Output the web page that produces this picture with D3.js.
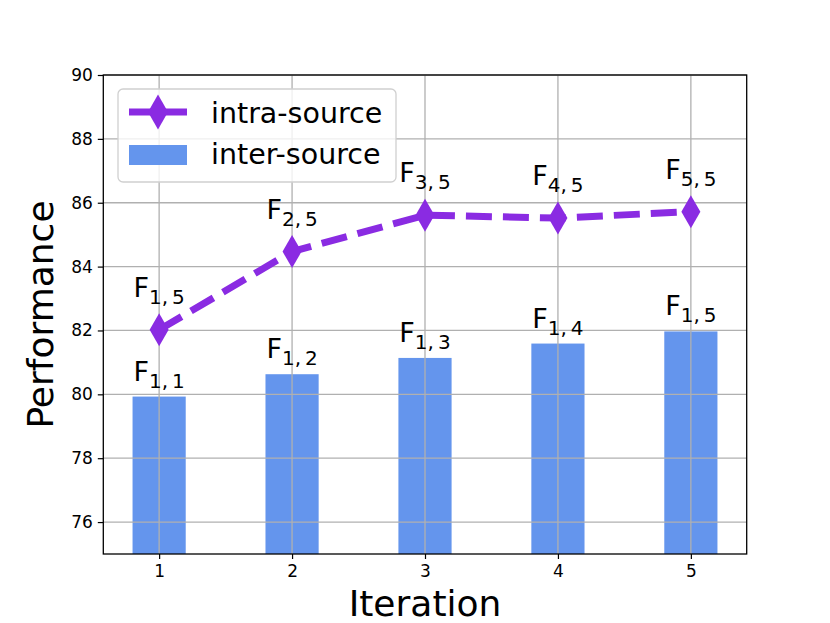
<!DOCTYPE html>
<html>
<head>
<meta charset="utf-8">
<script src="https://cdn.jsdelivr.net/npm/d3@7"></script>
<style>
  body { margin: 0; background: #fff; }
  text { font-family: "DejaVu Sans", sans-serif; }
</style>
</head>
<body>
<script>
// data
let iterations = [1, 2, 3, 4, 5];
let interSource = [79.93, 80.63, 81.14, 81.59, 81.97];
let intraSource = [82.02, 84.47, 85.61, 85.52, 85.72];
let interLabels = [["1", "1"], ["1", "2"], ["1", "3"], ["1", "4"], ["1", "5"]];
let intraLabels = [["1", "5"], ["2", "5"], ["3", "5"], ["4", "5"], ["5", "5"]];
let yTicks = [76, 78, 80, 82, 84, 86, 88, 90];

let width = 830, height = 623;
let pLeft = 103.3, pRight = 746.7, pTop = 75, pBottom = 554;
let purple = '#8a2be2', blue = '#6495ed', gridColor = '#b0b0b0';

let svg = d3.select('body').append('svg')
    .attr('width', width)
    .attr('height', height);

let x = d3.scaleLinear().domain([0.58, 5.42]).range([pLeft, pRight]);
let y = d3.scaleLinear().domain([75, 90]).range([pBottom, pTop]);
let barW = x(0.4) - x(0);

// bars
svg.selectAll('rect.bar')
    .data(interSource)
    .enter()
    .append('rect')
    .attr('class', 'bar')
    .attr('x', (d, i) => x(iterations[i]) - barW / 2)
    .attr('y', d => y(d))
    .attr('width', barW)
    .attr('height', d => pBottom - y(d))
    .attr('fill', blue);

// grid (drawn over the bars like the original)
let grid = svg.append('g');
grid.selectAll('line.gx')
    .data(iterations)
    .enter().append('line')
    .attr('x1', d => x(d)).attr('x2', d => x(d))
    .attr('y1', pTop).attr('y2', pBottom)
    .attr('stroke', gridColor).attr('stroke-width', 1.3);
grid.selectAll('line.gy')
    .data(yTicks)
    .enter().append('line')
    .attr('x1', pLeft).attr('x2', pRight)
    .attr('y1', d => y(d)).attr('y2', d => y(d))
    .attr('stroke', gridColor).attr('stroke-width', 1.3);

// dashed line + thin diamonds
let line = d3.line().x((d, i) => x(iterations[i])).y(d => y(d));
svg.append('path')
    .datum(intraSource)
    .attr('d', line)
    .attr('fill', 'none')
    .attr('stroke', purple)
    .attr('stroke-width', 7)
    .attr('stroke-dasharray', '26,11');

let diamond = function(cx, cy, w, h) {
    return `M${cx},${cy - h / 2}L${cx + w / 2},${cy}L${cx},${cy + h / 2}L${cx - w / 2},${cy}Z`;
};
svg.selectAll('path.mk')
    .data(intraSource)
    .enter().append('path')
    .attr('class', 'mk')
    .attr('d', (d, i) => diamond(x(iterations[i]), y(d), 19, 33))
    .attr('fill', purple);

// F labels with subscripts
let addLabel = function(cx, baseY, sub) {
    let t = svg.append('text')
        .attr('x', cx)
        .attr('y', baseY)
        .attr('text-anchor', 'middle')
        .attr('font-size', 27)
        .attr('fill', '#000');
    t.append('tspan').text('F');
    t.append('tspan')
        .attr('font-size', 20)
        .attr('dy', 7)
        .text(sub[0] + ',\u2009' + sub[1]);
};
interSource.forEach((d, i) => addLabel(x(iterations[i]), y(d) - 16, interLabels[i]));
intraSource.forEach((d, i) => addLabel(x(iterations[i]), y(d) - 33, intraLabels[i]));

// axes
let axisX = d3.axisBottom(x).tickValues(iterations).tickSize(5).tickPadding(6).tickFormat(d3.format('d'));
let axisY = d3.axisLeft(y).tickValues(yTicks).tickSize(5.5).tickPadding(5);
let gx = svg.append('g').attr('transform', `translate(0,${pBottom})`).call(axisX);
let gy = svg.append('g').attr('transform', `translate(${pLeft},0)`).call(axisY);
[gx, gy].forEach(g => {
    g.select('.domain').remove();
    g.selectAll('.tick line').attr('stroke', '#000').attr('stroke-width', 1.2);
    g.selectAll('.tick text').attr('font-size', 17).attr('fill', '#000')
        .style('font-family', '"DejaVu Sans", sans-serif');
});

// frame
svg.append('rect')
    .attr('x', pLeft).attr('y', pTop)
    .attr('width', pRight - pLeft).attr('height', pBottom - pTop)
    .attr('fill', 'none').attr('stroke', '#000').attr('stroke-width', 1.3);

// axis titles
svg.append('text')
    .attr('x', (pLeft + pRight) / 2).attr('y', 616)
    .attr('text-anchor', 'middle').attr('font-size', 36)
    .text('Iteration');
svg.append('text')
    .attr('transform', `translate(53,${(pTop + pBottom) / 2}) rotate(-90)`)
    .attr('text-anchor', 'middle').attr('font-size', 36)
    .text('Performance');

// legend
let legend = svg.append('g');
legend.append('rect')
    .attr('x', 118).attr('y', 89).attr('width', 278).attr('height', 93)
    .attr('rx', 5)
    .attr('fill', 'white').attr('fill-opacity', 0.8)
    .attr('stroke', '#d0d0d0').attr('stroke-width', 1.3);
legend.append('line')
    .attr('x1', 129).attr('x2', 187).attr('y1', 112).attr('y2', 112)
    .attr('stroke', purple).attr('stroke-width', 7);
legend.append('path')
    .attr('d', diamond(158, 112, 20, 35))
    .attr('fill', purple);
legend.append('rect')
    .attr('x', 129).attr('y', 145).attr('width', 58).attr('height', 20)
    .attr('fill', blue);
legend.append('text')
    .attr('x', 211).attr('y', 122.5).attr('font-size', 28.5)
    .text('intra-source');
legend.append('text')
    .attr('x', 211).attr('y', 164).attr('font-size', 28.5)
    .text('inter-source');
</script>
</body>
</html>
